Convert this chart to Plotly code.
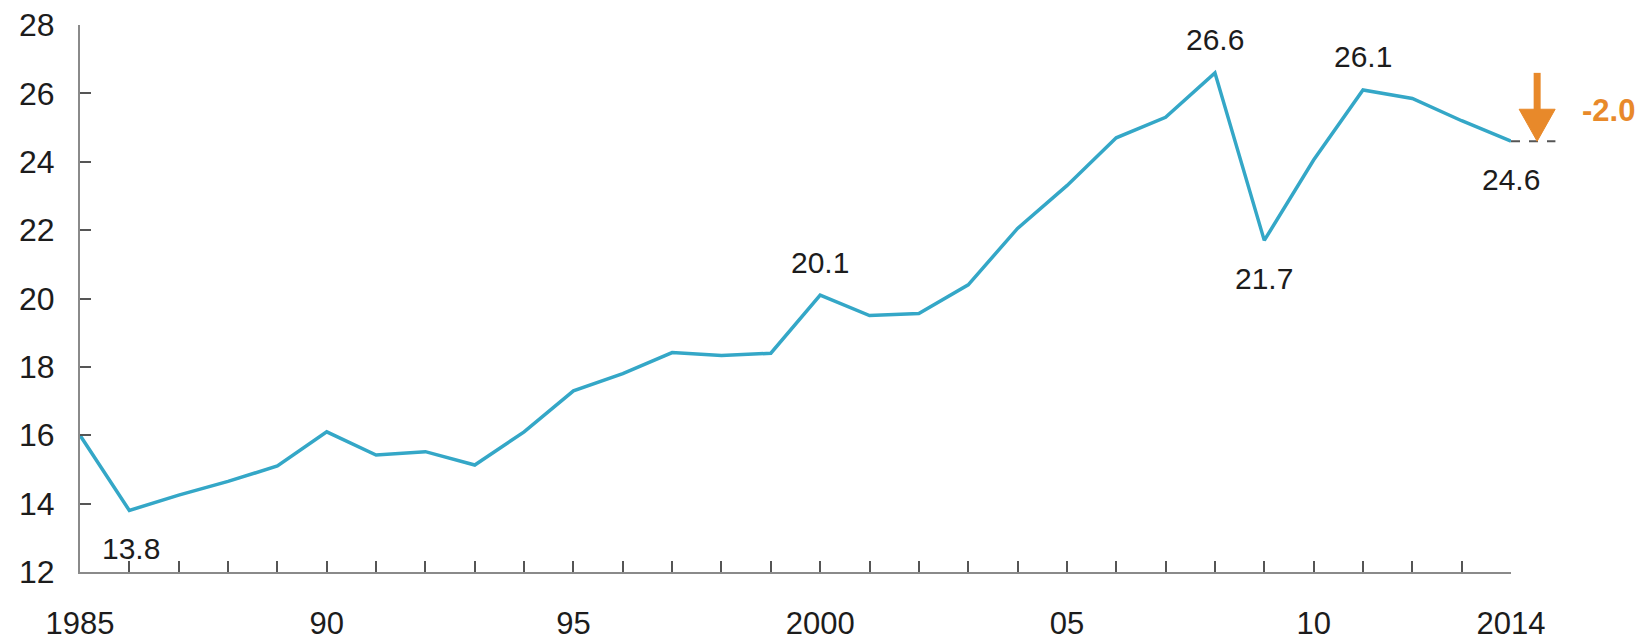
import plotly.graph_objects as go

years = list(range(1985, 2015))
values = [16.0, 13.8, 14.25, 14.65, 15.1, 16.1, 15.42, 15.52, 15.13, 16.1,
          17.3, 17.8, 18.42, 18.33, 18.4, 20.1, 19.5, 19.56, 20.4, 22.05,
          23.3, 24.7, 25.3, 26.6, 21.7, 24.05, 26.1, 25.85, 25.2, 24.6]

tick_labels = {1985: "1985", 1990: "90", 1995: "95", 2000: "2000",
               2005: "05", 2010: "10", 2014: "2014"}
label_years = [1986, 2000, 2008, 2009, 2011, 2014]
label_side = ["below", "above", "above", "below", "above", "below"]

line_color = "#34a7c7"
orange = "#e8892a"
text_color = "#1c1c1c"
font_family = "Liberation Sans, Arial, sans-serif"

x_range = [years[0], years[-1]]


def to_paper(x):
    return (x - x_range[0]) / (x_range[1] - x_range[0])


fig = go.Figure()
fig.add_trace(go.Scatter(x=years, y=values, mode="lines",
                         line=dict(color=line_color, width=3.5),
                         hoverinfo="x+y"))

annotations = []
for yr, side in zip(label_years, label_side):
    v = values[years.index(yr)]
    annotations.append(dict(x=yr, y=v, xref="x", yref="y", text=f"{v:.1f}",
                            showarrow=False, yshift=(33 if side == "above" else -38),
                            xshift=(2 if yr == years[1] else 0),
                            font=dict(size=30, color=text_color, family=font_family)))

peak = max(values)
last = values[-1]
arrow_x = years[-1] + 0.53
annotations.append(dict(x=to_paper(years[-1] + 1.97), y=(peak + last) / 2 - 0.1,
                        xref="paper", yref="y", xanchor="center", yanchor="middle",
                        text=f"<b>{last - peak:.1f}</b>", showarrow=False,
                        font=dict(size=31, color=orange, family=font_family)))

shapes = [
    # dashed reference line at last value
    dict(type="line", xref="paper", yref="y", x0=to_paper(years[-1]), x1=to_paper(years[-1] + 0.9),
         y0=last, y1=last, line=dict(color="#555555", width=2, dash="dash")),
    # arrow shaft
    dict(type="line", xref="paper", yref="y", x0=to_paper(arrow_x), x1=to_paper(arrow_x),
         y0=peak, y1=last + 0.8, line=dict(color=orange, width=7)),
    # arrow head
    dict(type="path", xref="paper", yref="y", xsizemode="pixel", ysizemode="pixel",
         xanchor=to_paper(arrow_x), yanchor=last, path="M -18 32 L 18 32 L 0 0 Z",
         fillcolor=orange, line=dict(color=orange, width=1)),
]

fig.update_layout(
    width=1644, height=642,
    margin=dict(l=80, r=133, t=25, b=70),
    paper_bgcolor="white", plot_bgcolor="white",
    showlegend=False,
    annotations=annotations,
    shapes=shapes,
    font=dict(family=font_family, size=30, color=text_color),
)
fig.update_xaxes(range=x_range, tickmode="array", tickvals=years,
                 ticktext=[tick_labels.get(y, "") for y in years],
                 ticks="inside", ticklen=11, tickwidth=1.5, tickcolor="#555555",
                 showline=True, linecolor="#8a8a8a", linewidth=2,
                 showgrid=False, zeroline=False, ticklabelstandoff=23,
                 automargin=False,
                 tickfont=dict(size=31, color=text_color))
fig.update_yaxes(range=[12, 28], tickmode="array", tickvals=list(range(12, 29, 2)),
                 ticks="inside", ticklen=11, tickwidth=1.5, tickcolor="#555555",
                 showline=True, linecolor="#8a8a8a", linewidth=2,
                 showgrid=False, zeroline=False, ticklabelstandoff=17,
                 automargin=False,
                 tickfont=dict(size=32, color=text_color))

fig.write_html("out.html", config={"displayModeBar": False},
               post_script="document.body.style.margin='0';document.body.style.overflow='hidden';")
